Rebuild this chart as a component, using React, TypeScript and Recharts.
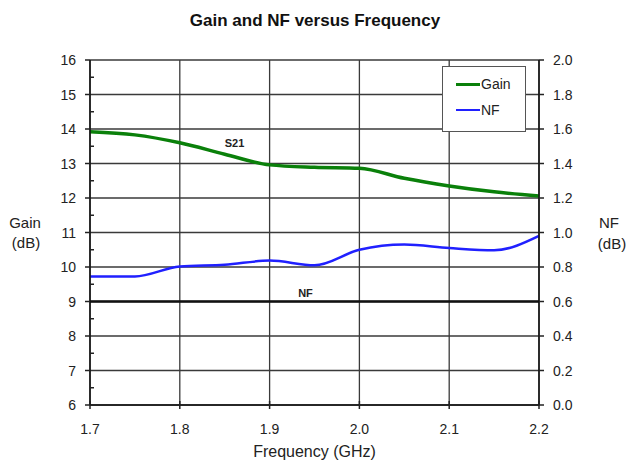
import { LineChart, Line, XAxis, YAxis, CartesianGrid, Legend, ReferenceLine, ReferenceDot } from 'recharts';

// frequency points (GHz)
const freq = [1.7, 1.75, 1.8, 1.85, 1.9, 1.95, 2.0, 2.05, 2.1, 2.15, 2.2];
// S21 gain (dB), left axis
const gain = [13.92, 13.83, 13.6, 13.27, 12.96, 12.89, 12.86, 12.57, 12.35, 12.18, 12.06];
// noise figure (dB), right axis
const nf = [0.745, 0.745, 0.803, 0.813, 0.837, 0.81, 0.9, 0.93, 0.91, 0.897, 0.98];

const freqTicks = [1.7, 1.8, 1.9, 2.0, 2.1, 2.2];
const gainTicks = [6, 6.5, 7, 7.5, 8, 8.5, 9, 9.5, 10, 10.5, 11, 11.5, 12, 12.5, 13, 13.5, 14, 14.5, 15, 15.5, 16];
const nfTicks = [0, 0.2, 0.4, 0.6, 0.8, 1.0, 1.2, 1.4, 1.6, 1.8, 2.0];

const data = freq.map((f, i) => ({ f, gain: gain[i], nf: nf[i] }));

const font = 'Liberation Sans, Arial, sans-serif';
const axisColor = '#222';

const GainTick = (props: any) => {
  const { x, y, payload } = props;
  const v = payload.value;
  if (!Number.isInteger(v)) {
    return <line x1={x} x2={x + 4} y1={y} y2={y} stroke={axisColor} strokeWidth={1.5} />;
  }
  return (
    <g>
      <line x1={x - 5} x2={x} y1={y} y2={y} stroke={axisColor} strokeWidth={1.5} />
      <text x={x - 14} y={y} dy={5} textAnchor="end" fontSize={14} fontFamily={font} fill={axisColor}>
        {v}
      </text>
    </g>
  );
};

const NfTick = (props: any) => {
  const { x, y, payload } = props;
  return (
    <g>
      <line x1={x} x2={x + 5} y1={y} y2={y} stroke={axisColor} strokeWidth={1.5} />
      <text x={x + 14} y={y} dy={5} textAnchor="start" fontSize={14} fontFamily={font} fill={axisColor}>
        {payload.value.toFixed(1)}
      </text>
    </g>
  );
};

const FreqTick = (props: any) => {
  const { x, y, payload } = props;
  return (
    <g>
      <line x1={x} x2={x} y1={y - 4} y2={y + 4} stroke={axisColor} strokeWidth={1.5} />
      <text x={x} y={y + 29} textAnchor="middle" fontSize={14} fontFamily={font} fill={axisColor}>
        {payload.value.toFixed(1)}
      </text>
    </g>
  );
};

const LegendBox = (props: any) => (
  <div
    style={{
      width: 84,
      height: 66,
      background: '#fff',
      border: '1.5px solid #555',
      boxSizing: 'border-box',
      fontFamily: font,
      fontSize: 14,
      color: '#222',
      paddingTop: 8,
      paddingLeft: 13,
    }}
  >
    {props.payload.map((p: any) => (
      <div key={p.value} style={{ display: 'flex', alignItems: 'center', height: 34, marginTop: -8 }}>
        <span style={{ display: 'inline-block', width: 24, height: p.value === 'Gain' ? 3 : 2, background: p.color }} />
        <span style={{ marginLeft: 1 }}>{p.value}</span>
      </div>
    ))}
  </div>
);

export default function App() {
  return (
    <div style={{ position: 'relative', width: 626, height: 463, background: '#fff' }}>
      <style>{'body{margin:0}'}</style>
      <LineChart width={626} height={463} data={data} margin={{ top: 60, right: 27, bottom: 28, left: 0 }}>
        <text x={315} y={26} textAnchor="middle" fontSize={17} fontWeight="bold" fontFamily={font} fill="#111">
          Gain and NF versus Frequency
        </text>
        <CartesianGrid yAxisId="nf" stroke="#3a3a3a" strokeWidth={1.3} />
        <XAxis
          dataKey="f"
          type="number"
          domain={[1.7, 2.2]}
          ticks={freqTicks}
          tick={<FreqTick />}
          tickSize={0}
          tickMargin={0}
          tickLine={false}
          height={30}
          stroke="#111"
          strokeWidth={1.5}
          label={{ value: 'Frequency (GHz)', position: 'insideBottom', offset: -22, fontSize: 16, fontFamily: font, fill: '#222' }}
        />
        <YAxis
          yAxisId="gain"
          orientation="left"
          domain={[6, 16]}
          ticks={gainTicks}
          tick={<GainTick />}
          tickSize={0}
          tickMargin={0}
          tickLine={false}
          width={90}
          interval={0}
          stroke="#111"
          strokeWidth={1.5}
          label={{
            content: () => (
              <text x={25} textAnchor="middle" fontSize={15} fontFamily={font} fill="#222">
                <tspan x={25} y={228}>Gain</tspan>
                <tspan x={26} y={248}>(dB)</tspan>
              </text>
            ),
          }}
        />
        <YAxis
          yAxisId="nf"
          orientation="right"
          domain={[0, 2]}
          ticks={nfTicks}
          tick={<NfTick />}
          tickSize={0}
          tickMargin={0}
          tickLine={false}
          width={60}
          interval={0}
          stroke="#111"
          strokeWidth={1.5}
          label={{
            content: () => (
              <text textAnchor="middle" fontSize={15} fontFamily={font} fill="#222">
                <tspan x={609} y={228}>NF</tspan>
                <tspan x={612} y={249}>(dB)</tspan>
              </text>
            ),
          }}
        />
        <ReferenceLine yAxisId="gain" y={9} stroke="#111" strokeWidth={2.5} />
        <ReferenceDot
          yAxisId="gain"
          x={1.861}
          y={13.59}
          r={0}
          label={{ value: 'S21', position: 'center', fontSize: 11, fontWeight: 'bold', fontFamily: font, fill: '#222' }}
        />
        <ReferenceDot
          yAxisId="gain"
          x={1.94}
          y={9.25}
          r={0}
          label={{ value: 'NF', position: 'center', fontSize: 11, fontWeight: 'bold', fontFamily: font, fill: '#222' }}
        />
        <Line yAxisId="gain" type="monotone" dataKey="gain" name="Gain" stroke="#0a800a" strokeWidth={3.5} dot={false} isAnimationActive={false} />
        <Line yAxisId="nf" type="monotone" dataKey="nf" name="NF" stroke="#2020ff" strokeWidth={2.5} dot={false} isAnimationActive={false} />
        <Legend
          layout="horizontal"
          verticalAlign="middle"
          align="center"
          content={<LegendBox />}
          wrapperStyle={{ position: 'absolute', left: 442, top: 66, width: 'auto', bottom: 'auto' }}
        />
      </LineChart>
    </div>
  );
}
